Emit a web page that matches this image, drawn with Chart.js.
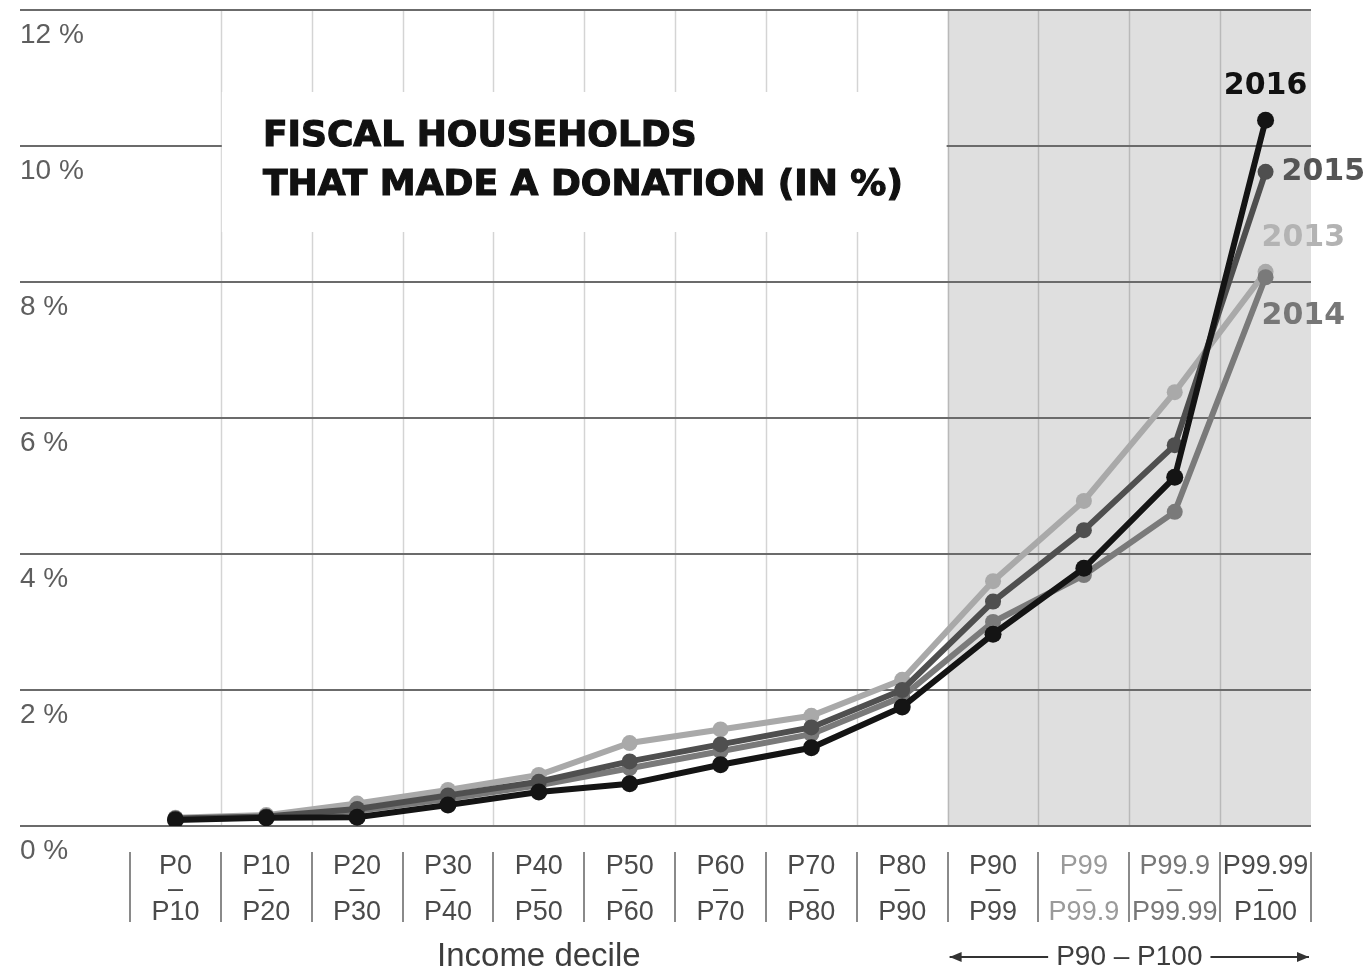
<!DOCTYPE html>
<html>
<head>
<meta charset="utf-8">
<script src="https://cdn.jsdelivr.net/npm/chart.js@4.4.0/dist/chart.umd.min.js"></script>
<style>
    html, body { margin: 0; padding: 0; background: #fff; }
</style>
</head>
<body>
<canvas id="donation-chart" width="1371" height="973"></canvas>
<script>
// income brackets, each drawn as "top / dash / bottom"
const deciles = [
    ['P0', '–', 'P10'], ['P10', '–', 'P20'], ['P20', '–', 'P30'], ['P30', '–', 'P40'],
    ['P40', '–', 'P50'], ['P50', '–', 'P60'], ['P60', '–', 'P70'], ['P70', '–', 'P80'],
    ['P80', '–', 'P90'], ['P90', '–', 'P99'], ['P99', '–', 'P99.9'], ['P99.9', '–', 'P99.99'],
    ['P99.99', '–', 'P100']
];
const yTicks = [0, 2, 4, 6, 8, 10, 12];

// share of fiscal households that made a donation (%)
const share2013 = [0.12, 0.16, 0.33, 0.53, 0.75, 1.22, 1.42, 1.62, 2.15, 3.60, 4.78, 6.38, 8.15];
const share2014 = [0.10, 0.13, 0.22, 0.40, 0.60, 0.85, 1.10, 1.35, 1.90, 3.00, 3.69, 4.62, 8.07];
const share2015 = [0.11, 0.14, 0.25, 0.45, 0.65, 0.95, 1.20, 1.45, 2.00, 3.30, 4.35, 5.60, 9.62];
const share2016 = [0.09, 0.12, 0.13, 0.31, 0.50, 0.62, 0.90, 1.15, 1.75, 2.82, 3.79, 5.13, 10.38];

const topDecileStart = 9; // index of P90-P99, start of the shaded block

function binEdge(xScale, i) {
    const bin = xScale.width / deciles.length;
    return xScale.left + i * bin;
}

const decorPlugin = {
    id: 'decor',
    beforeDraw(chart) {
        const { ctx, chartArea: area, scales: { x, y } } = chart;
        ctx.save();
        ctx.fillStyle = '#fff';
        ctx.fillRect(0, 0, chart.width, chart.height);

        // shaded P90-P100 block
        const shadeLeft = binEdge(x, topDecileStart);
        ctx.fillStyle = '#dfdfdf';
        ctx.fillRect(shadeLeft, area.top, area.right - shadeLeft, area.bottom - area.top);

        // vertical separators between brackets
        ctx.strokeStyle = 'rgba(0,0,0,0.17)';
        ctx.lineWidth = 1.5;
        for (let i = 1; i < deciles.length; i++) {
            const px = Math.round(binEdge(x, i)) + 0.5;
            ctx.beginPath();
            ctx.moveTo(px, area.top);
            ctx.lineTo(px, area.bottom);
            ctx.stroke();
        }

        // horizontal gridlines, reaching out to the left labels
        ctx.strokeStyle = '#6b6b6b';
        ctx.lineWidth = 2;
        yTicks.forEach(v => {
            const py = Math.round(y.getPixelForValue(v));
            ctx.beginPath();
            ctx.moveTo(20, py);
            ctx.lineTo(area.right, py);
            ctx.stroke();
        });

        // white box behind the title
        const boxLeft = binEdge(x, 1) + 1;
        const boxRight = binEdge(x, topDecileStart) - 1;
        ctx.fillStyle = '#fff';
        ctx.fillRect(boxLeft, 92, boxRight - boxLeft, 140);

        ctx.fillStyle = '#111';
        ctx.strokeStyle = '#111';
        ctx.lineWidth = 1.2;
        ctx.font = 'bold 36px "DejaVu Sans"';
        ctx.textBaseline = 'alphabetic';
        ctx.textAlign = 'left';
        ['FISCAL HOUSEHOLDS', 'THAT MADE A DONATION (IN %)'].forEach((line, i) => {
            ctx.fillText(line, 263, 146 + i * 49);
            ctx.strokeText(line, 263, 146 + i * 49);
        });

        // y tick labels sit just under their gridline
        ctx.fillStyle = '#5e5e5e';
        ctx.font = '28px "Liberation Sans"';
        ctx.textBaseline = 'middle';
        yTicks.forEach(v => {
            ctx.fillText(v + ' %', 20, y.getPixelForValue(v) + 25);
        });
        ctx.restore();
    },
    afterDraw(chart) {
        const { ctx, chartArea: area, scales: { x, y } } = chart;
        ctx.save();

        // bracket separators under the axis
        ctx.strokeStyle = '#8a8a8a';
        ctx.lineWidth = 2;
        for (let i = 0; i <= deciles.length; i++) {
            const px = Math.round(binEdge(x, i));
            ctx.beginPath();
            ctx.moveTo(px, 852);
            ctx.lineTo(px, 922);
            ctx.stroke();
        }

        // year labels next to the last points
        const last = deciles.length - 1;
        const lx = x.getPixelForValue(last);
        ctx.font = 'bold 30px "DejaVu Sans"';
        ctx.textBaseline = 'middle';
        ctx.textAlign = 'center';
        ctx.fillStyle = '#111';
        ctx.fillText('2016', lx, y.getPixelForValue(share2016[last]) - 34);
        ctx.textAlign = 'left';
        ctx.fillStyle = '#555';
        ctx.fillText('2015', lx + 16, y.getPixelForValue(share2015[last]));
        ctx.fillStyle = '#b3b3b3';
        ctx.fillText('2013', lx - 4, y.getPixelForValue(share2013[last]) - 34);
        ctx.fillStyle = '#777';
        ctx.fillText('2014', lx - 4, y.getPixelForValue(share2014[last]) + 39);

        // axis captions
        ctx.fillStyle = '#3d3d3d';
        ctx.font = '33px "Liberation Sans"';
        ctx.textAlign = 'center';
        const groupMid = (binEdge(x, 0) + binEdge(x, topDecileStart)) / 2;
        ctx.fillText('Income decile', groupMid, 957);

        const topLeft = binEdge(x, topDecileStart) + 2;
        const topRight = area.right - 2;
        const topMid = (topLeft + topRight) / 2;
        ctx.font = '28px "Liberation Sans"';
        ctx.fillText('P90 – P100', topMid, 957);
        const half = ctx.measureText('P90 – P100').width / 2 + 8;
        ctx.strokeStyle = '#333';
        ctx.lineWidth = 2;
        ctx.beginPath();
        ctx.moveTo(topLeft, 957);
        ctx.lineTo(topMid - half, 957);
        ctx.moveTo(topMid + half, 957);
        ctx.lineTo(topRight, 957);
        ctx.stroke();
        ctx.fillStyle = '#333';
        ctx.beginPath();
        ctx.moveTo(topLeft, 957);
        ctx.lineTo(topLeft + 12, 952);
        ctx.lineTo(topLeft + 12, 962);
        ctx.closePath();
        ctx.fill();
        ctx.beginPath();
        ctx.moveTo(topRight, 957);
        ctx.lineTo(topRight - 12, 952);
        ctx.lineTo(topRight - 12, 962);
        ctx.closePath();
        ctx.fill();
        ctx.restore();
    }
};

function series(label, data, color, radius) {
    return {
        label: label,
        data: data,
        borderColor: color,
        backgroundColor: color,
        borderWidth: 6,
        pointRadius: radius,
        pointBorderWidth: 0,
        tension: 0
    };
}

const ctx = document.getElementById('donation-chart').getContext('2d');
new Chart(ctx, {
    type: 'line',
    data: {
        labels: deciles,
        // first dataset is drawn last, so 2016 ends up on top
        datasets: [
            series('2016', share2016, '#141414', 8.5),
            series('2015', share2015, '#4f4f4f', 8),
            series('2014', share2014, '#7a7a7a', 8),
            series('2013', share2013, '#a9a9a9', 8)
        ]
    },
    plugins: [decorPlugin],
    options: {
        responsive: false,
        animation: false,
        layout: {
            padding: { left: 130, right: 60, top: 10, bottom: 0 }
        },
        scales: {
            x: {
                type: 'category',
                offset: true,
                grid: { display: false, drawTicks: false, tickLength: 0 },
                border: { display: false },
                ticks: {
                    autoSkip: false,
                    maxRotation: 0,
                    padding: 29,
                    font: { family: 'Liberation Sans', size: 27, lineHeight: '23px' },
                    color: function(c) {
                        if (c.index === 10) return '#9a9a9a';
                        if (c.index === 11) return '#777';
                        return '#4a4a4a';
                    }
                },
                afterFit: function(scale) {
                    scale.height = 147;
                }
            },
            y: {
                display: false,
                min: 0,
                max: 12
            }
        },
        plugins: {
            legend: { display: false },
            tooltip: { enabled: false }
        }
    }
});
</script>
</body>
</html>
